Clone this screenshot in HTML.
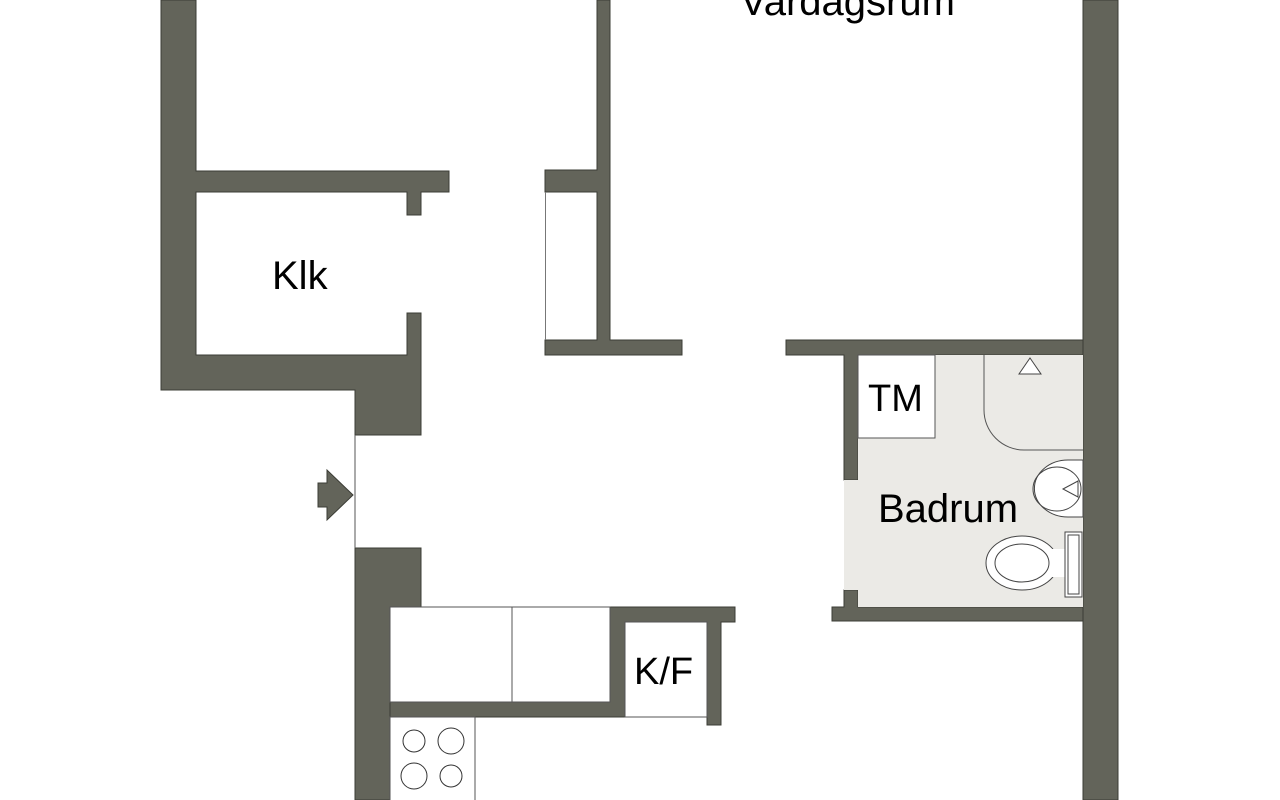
<!DOCTYPE html>
<html><head><meta charset="utf-8"><style>
html,body{margin:0;padding:0;background:#fff;width:1280px;height:800px;overflow:hidden}
svg{display:block}
text{font-family:"Liberation Sans",sans-serif;fill:#000}
</style></head><body>
<svg width="1280" height="800" viewBox="0 0 1280 800">
<g fill="#63645a" stroke="#3b3c35" stroke-width="1">
<polygon points="161,0 196,0 196,171 449,171 449,192 421,192 421,215 407,215 407,192 196,192 196,355 407,355 407,313 421,313 421,435 355,435 355,390 161,390"/>
<polygon points="597,0 610,0 610,340 682,340 682,355 545,355 545,340 597,340 597,192 545,192 545,170 597,170"/>
<rect x="1083" y="0" width="35" height="800"/>
<polygon points="786,340 1083,340 1083,355 858,355 858,480 844,480 844,355 786,355"/>
<polygon points="832,607 844,607 844,590 858,590 858,607 1083,607 1083,621 832,621"/>
<polygon points="355,548 421,548 421,607 390,607 390,800 355,800"/>
<polygon points="390,702 610,702 610,607 735,607 735,622 721,622 721,725 707,725 707,622 625,622 625,717 390,717"/>
<polygon points="318,483 327,483 327,470 353,495 327,520 327,507 318,507"/>
</g>
<line x1="355" y1="435" x2="355" y2="548" stroke="#555" stroke-width="1"/>
<line x1="545.5" y1="192" x2="545.5" y2="340" stroke="#777" stroke-width="1"/>
<rect x="858" y="355" width="225" height="252" fill="#ebeae6"/>
<rect x="844" y="480" width="14" height="110" fill="#ebeae6"/>
<rect x="858" y="355" width="77" height="83" fill="#fff" stroke="#555"/>
<path d="M984,355 V410 A40,40 0 0 0 1024,450 H1083" fill="none" stroke="#555"/>
<polygon points="1030,358 1041,374 1019,374" fill="#fff" stroke="#444"/>
<path d="M1083,460 H1068 A33,28 0 1 0 1068,517 H1083 Z" fill="#fff" stroke="#444"/>
<ellipse cx="1057" cy="489" rx="24" ry="22" fill="none" stroke="#444"/>
<polygon points="1063,489 1078,481 1078,497" fill="none" stroke="#444"/>
<ellipse cx="1022" cy="563" rx="36" ry="27" fill="#fff" stroke="#444"/>
<ellipse cx="1022" cy="563" rx="27" ry="19" fill="none" stroke="#444"/>
<rect x="1050" y="549" width="15" height="28" fill="#fff" stroke="none"/>
<rect x="1065" y="532" width="17" height="65" fill="#fff" stroke="#444"/>
<rect x="1068" y="535" width="11" height="59" fill="#fff" stroke="#444"/>
<g fill="#fff" stroke="#555">
<rect x="390" y="607" width="122" height="95"/>
<rect x="512" y="607" width="98" height="95"/>
<rect x="625" y="622" width="82" height="95"/>
<rect x="390" y="717" width="85" height="90"/>
</g>
<g fill="none" stroke="#333">
<circle cx="414" cy="741" r="11"/><circle cx="451" cy="741" r="13"/>
<circle cx="414" cy="776" r="13"/><circle cx="451" cy="776" r="11"/>
</g>
<text x="740" y="15" font-size="40">Vardagsrum</text>
<text x="272" y="289" font-size="40">Klk</text>
<text x="868" y="411" font-size="38">TM</text>
<text x="878" y="522" font-size="40">Badrum</text>
<text x="634" y="684" font-size="38">K/F</text>
</svg>
</body></html>
